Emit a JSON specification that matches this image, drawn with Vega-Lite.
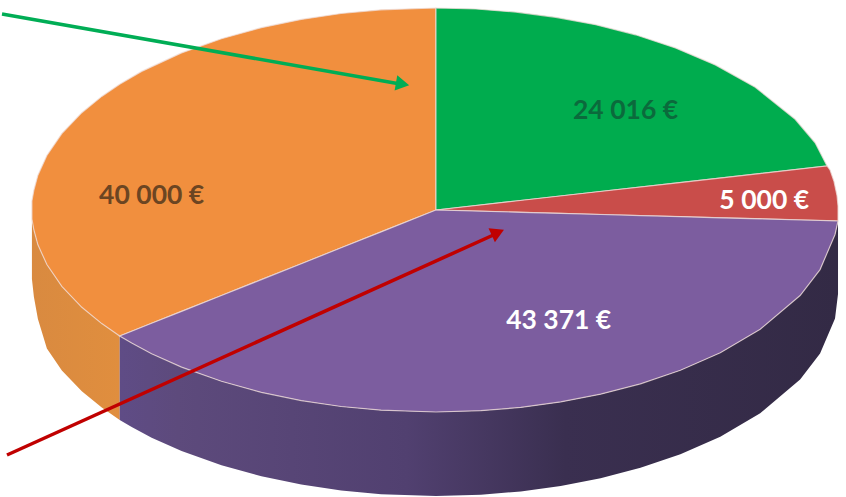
{"$schema":"https://vega.github.io/schema/vega-lite/v6.json","width":846,"height":497,"autosize":{"type":"fit","contains":"padding"},"padding":0,"background":"white","view":{"stroke":null},
"datasets":{
"shapes":[
{"part":"orange side","x":30,"y":218,"y2":278},{"part":"orange side","x":32,"y":229,"y2":296},{"part":"orange side","x":36,"y":243.8,"y2":318},{"part":"orange side","x":45,"y":263.5,"y2":347.5},{"part":"orange side","x":60,"y":285.4,"y2":369.4},{"part":"orange side","x":80,"y":306.3,"y2":390.3},{"part":"orange side","x":100,"y":322.6,"y2":406.6},{"part":"orange side","x":118,"y":335,"y2":419},
{"part":"purple side","x":118,"y":335,"y2":419},{"part":"purple side","x":130,"y":342,"y2":426},{"part":"purple side","x":150,"y":352.7,"y2":436.7},{"part":"purple side","x":180,"y":366.1,"y2":450.1},{"part":"purple side","x":220,"y":380.3,"y2":464.3},{"part":"purple side","x":260,"y":391.3,"y2":475.3},{"part":"purple side","x":300,"y":399.6,"y2":483.6},{"part":"purple side","x":340,"y":405.5,"y2":489.5},{"part":"purple side","x":380,"y":409.2,"y2":493.2},{"part":"purple side","x":435,"y":411,"y2":495},{"part":"purple side","x":480,"y":409.7,"y2":493.7},{"part":"purple side","x":520,"y":406.4,"y2":490.4},{"part":"purple side","x":560,"y":400.9,"y2":484.9},{"part":"purple side","x":600,"y":393.2,"y2":477.2},{"part":"purple side","x":640,"y":382.8,"y2":466.8},{"part":"purple side","x":680,"y":369.2,"y2":453.2},{"part":"purple side","x":720,"y":351.7,"y2":435.7},{"part":"purple side","x":760,"y":328.3,"y2":412.3},{"part":"purple side","x":800,"y":294.5,"y2":378.5},{"part":"purple side","x":820,"y":268.6,"y2":352.6},{"part":"purple side","x":835,"y":233.5,"y2":317.5},{"part":"purple side","x":838,"y":220,"y2":293},
{"part":"Orange","x":30,"y":200,"y2":218},{"part":"Orange","x":32,"y":189,"y2":229},{"part":"Orange","x":36,"y":174.2,"y2":243.8},{"part":"Orange","x":45,"y":154.5,"y2":263.5},{"part":"Orange","x":60,"y":132.6,"y2":285.4},{"part":"Orange","x":80,"y":111.7,"y2":306.3},{"part":"Orange","x":100,"y":95.4,"y2":322.6},{"part":"Orange","x":118,"y":83.2,"y2":335},{"part":"Orange","x":140,"y":70.4,"y2":326.3},{"part":"Orange","x":180,"y":51.9,"y2":310.4},{"part":"Orange","x":220,"y":37.7,"y2":294.5},{"part":"Orange","x":260,"y":26.7,"y2":278.6},{"part":"Orange","x":300,"y":18.4,"y2":262.7},{"part":"Orange","x":340,"y":12.5,"y2":246.8},{"part":"Orange","x":380,"y":8.8,"y2":230.9},{"part":"Orange","x":435,"y":7,"y2":209},
{"part":"Green","x":435,"y":7,"y2":209},{"part":"Green","x":475,"y":8,"y2":204.5},{"part":"Green","x":515,"y":11.1,"y2":200},{"part":"Green","x":555,"y":16.3,"y2":195.5},{"part":"Green","x":595,"y":23.7,"y2":191},{"part":"Green","x":635,"y":33.8,"y2":186.6},{"part":"Green","x":675,"y":46.9,"y2":182.1},{"part":"Green","x":715,"y":63.9,"y2":177.6},{"part":"Green","x":755,"y":86.3,"y2":173.1},{"part":"Green","x":795,"y":118.3,"y2":168.6},{"part":"Green","x":815,"y":141.8,"y2":166.4},{"part":"Green","x":827,"y":165,"y2":165},
{"part":"Red","x":435,"y":209,"y2":209},{"part":"Red","x":515,"y":200,"y2":211.2},{"part":"Red","x":595,"y":191,"y2":213.4},{"part":"Red","x":675,"y":182.1,"y2":215.6},{"part":"Red","x":755,"y":173.1,"y2":217.7},{"part":"Red","x":827,"y":165,"y2":219.7},{"part":"Red","x":830,"y":169,"y2":219.8},{"part":"Red","x":834,"y":180.6,"y2":219.9},{"part":"Red","x":837,"y":194.7,"y2":220},{"part":"Red","x":838,"y":205,"y2":220},
{"part":"Purple","x":118,"y":335,"y2":335},{"part":"Purple","x":130,"y":330.2,"y2":342},{"part":"Purple","x":150,"y":322.3,"y2":352.7},{"part":"Purple","x":180,"y":310.4,"y2":366.1},{"part":"Purple","x":220,"y":294.5,"y2":380.3},{"part":"Purple","x":260,"y":278.6,"y2":391.3},{"part":"Purple","x":300,"y":262.7,"y2":399.6},{"part":"Purple","x":340,"y":246.8,"y2":405.5},{"part":"Purple","x":380,"y":230.9,"y2":409.2},{"part":"Purple","x":435,"y":209,"y2":411},{"part":"Purple","x":480,"y":210.2,"y2":409.7},{"part":"Purple","x":520,"y":211.3,"y2":406.4},{"part":"Purple","x":560,"y":212.4,"y2":400.9},{"part":"Purple","x":600,"y":213.5,"y2":393.2},{"part":"Purple","x":640,"y":214.6,"y2":382.8},{"part":"Purple","x":680,"y":215.7,"y2":369.2},{"part":"Purple","x":720,"y":216.8,"y2":351.7},{"part":"Purple","x":760,"y":217.9,"y2":328.3},{"part":"Purple","x":800,"y":219,"y2":294.5},{"part":"Purple","x":820,"y":219.5,"y2":268.6},{"part":"Purple","x":835,"y":219.9,"y2":233.5},{"part":"Purple","x":838,"y":220,"y2":220}
],
"labels":[{"part":"Green","label":"24 016 €","x":625,"y":110},{"part":"Red","label":"5 000 €","x":764,"y":200},{"part":"Purple","label":"43 371 €","x":558,"y":320},{"part":"Orange","label":"40 000 €","x":150,"y":195}],
"arrows":[{"arrow":"green","x":0,"y":13,"x2":402,"y2":83.5,"hx":401.5,"hy":83},{"arrow":"red","x":5,"y":454,"x2":497,"y2":232,"hx":497,"hy":231.5}]
},
"layer":[
{"data":{"name":"shapes"},"transform":[{"filter":"datum.part==='orange side'"}],"mark":{"type":"area","color":{"gradient":"linear","x1":0,"x2":1,"y1":0,"y2":0,"stops":[{"offset":0,"color":"#d98a40"},{"offset":1,"color":"#e08e3e"}]}},"encoding":{"x":{"field":"x","type":"quantitative","scale":{"domain":[0,846]},"axis":null},"y":{"field":"y","type":"quantitative","scale":{"domain":[496,-1]},"axis":null},"y2":{"field":"y2"}}},
{"data":{"name":"shapes"},"transform":[{"filter":"datum.part==='purple side'"}],"mark":{"type":"area","color":{"gradient":"linear","x1":0,"x2":1,"y1":0,"y2":0,"stops":[{"offset":0,"color":"#5f4c86"},{"offset":0.08,"color":"#5d4a7c"},{"offset":0.4,"color":"#514070"},{"offset":0.62,"color":"#3a2f50"},{"offset":1,"color":"#332a45"}]}},"encoding":{"x":{"field":"x","type":"quantitative","scale":{"domain":[0,846]},"axis":null},"y":{"field":"y","type":"quantitative","scale":{"domain":[496,-1]},"axis":null},"y2":{"field":"y2"}}},
{"data":{"name":"shapes"},"transform":[{"filter":"indexof(['Orange','Green','Red','Purple'],datum.part)>=0"}],"mark":{"type":"area","stroke":"#efdcd8","strokeWidth":1.2,"strokeOpacity":0.75},"encoding":{"x":{"field":"x","type":"quantitative","scale":{"domain":[0,846]},"axis":null},"y":{"field":"y","type":"quantitative","scale":{"domain":[496,-1]},"axis":null},"y2":{"field":"y2"},"color":{"field":"part","type":"nominal","legend":null,"scale":{"domain":["Orange","Green","Red","Purple"],"range":["#f18f3e","#00ac4e","#c94d4a","#7c5d9f"]}}}},
{"data":{"name":"labels"},"mark":{"type":"text","font":"Lato","fontWeight":"bold","fontSize":26.5,"align":"center","baseline":"middle"},"encoding":{"x":{"field":"x","type":"quantitative","scale":{"domain":[0,846]},"axis":null},"y":{"field":"y","type":"quantitative","scale":{"domain":[496,-1]},"axis":null},"text":{"field":"label"},"color":{"field":"part","type":"nominal","legend":null,"scale":{"domain":["Orange","Green","Red","Purple"],"range":["#6b4522","#0b6a3c","#ffffff","#ffffff"]}}}},
{"data":{"name":"arrows"},"mark":{"type":"rule","strokeWidth":3.5},"encoding":{"x":{"field":"x","type":"quantitative","scale":{"domain":[0,846]},"axis":null},"y":{"field":"y","type":"quantitative","scale":{"domain":[496,-1]},"axis":null},"x2":{"field":"x2"},"y2":{"field":"y2"},"color":{"field":"arrow","type":"nominal","legend":null,"scale":{"domain":["green","red"],"range":["#00ad55","#c00000"]}}}},
{"data":{"name":"arrows"},"transform":[{"filter":"datum.arrow==='green'"}],"mark":{"type":"point","shape":"triangle-up","filled":true,"size":240,"angle":99.9,"opacity":1,"color":"#00ad55"},"encoding":{"x":{"field":"hx","type":"quantitative","scale":{"domain":[0,846]},"axis":null},"y":{"field":"hy","type":"quantitative","scale":{"domain":[496,-1]},"axis":null}}},
{"data":{"name":"arrows"},"transform":[{"filter":"datum.arrow==='red'"}],"mark":{"type":"point","shape":"triangle-up","filled":true,"size":240,"angle":65.7,"opacity":1,"color":"#c00000"},"encoding":{"x":{"field":"hx","type":"quantitative","scale":{"domain":[0,846]},"axis":null},"y":{"field":"hy","type":"quantitative","scale":{"domain":[496,-1]},"axis":null}}}
],
"resolve":{"scale":{"color":"independent"}}}
